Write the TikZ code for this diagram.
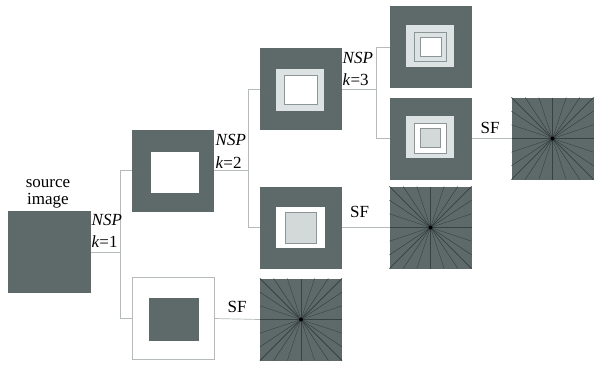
\documentclass[tikz,border=0pt]{standalone}
\usepackage{fontspec}
\setmainfont{Liberation Serif}
\definecolor{dk}{HTML}{5E6A6A}
\definecolor{lt}{HTML}{DDE2E2}
\definecolor{ltin}{HTML}{D3D9D9}
\definecolor{thin}{HTML}{8C9696}
\definecolor{conn}{HTML}{B5BABA}
\definecolor{rayc}{HTML}{384141}
\newcommand\starrays[1]{%
  \foreach \t in {-3,...,3}{%
    \draw[ray] (#1.center) -- ++(41,\t*41/3);
    \draw[ray] (#1.center) -- ++(-41,\t*41/3);
    \draw[ray] (#1.center) -- ++(\t*41/3,41);
    \draw[ray] (#1.center) -- ++(\t*41/3,-41);
  }%
  \fill[black] (#1.center) circle (2);
}
\begin{document}
\begin{tikzpicture}[x=1pt,y=-1pt,
  box/.style={rectangle,inner sep=0,outer sep=0,minimum width=82pt,minimum height=82pt,fill=dk},
  frame/.style={rectangle,inner sep=0,outer sep=0,minimum width=82pt,minimum height=82pt,fill=white,draw=conn,line width=0.8pt},
  rect/.style args={#1x#2}{rectangle,inner sep=0,outer sep=0,minimum width=#1pt,minimum height=#2pt},
  conn/.style={draw=conn,line width=0.7pt},
  ray/.style={draw=rayc,line width=0.45pt},
  lbl/.style={font=\rmfamily\fontsize{17}{20}\selectfont,inner sep=0}]
\useasboundingbox (0,0) rectangle (596,368);
\fill[white] (0,0) rectangle (596,368);

% boxes
\node[box,minimum width=83pt] (src) at (49.5,252) {};
\node[box] (b2) at (173,170.5) {};
\node[frame] (bl) at (173.5,318.5) {};
\node[box] (c3) at (300.5,89) {};
\node[box] (c2) at (300.5,227.5) {};
\node[box] (s1) at (301,319.5) {};
\node[box] (d1) at (430.5,47) {};
\node[box] (d2) at (430.5,138.5) {};
\node[box] (s2) at (430.5,227.5) {};
\node[box] (s3) at (552.5,138.5) {};

% inner parts
\node[rect=48x41,fill=white] (b2in) at (175,172.5) {};
\node[rect=50x43,fill=dk] (blin) at (174,319.5) {};
\node[rect=48x42,fill=lt] (c3a) at (300,90) {};
\node[rect=33x29,fill=white,draw=thin,line width=0.8pt] (c3b) at (300.5,89.5) {};
\node[rect=49x41,fill=white] (c2a) at (300.5,227.5) {};
\node[rect=31x31,fill=ltin,draw=thin,line width=0.8pt] (c2b) at (300.5,227.5) {};
\node[rect=48x42,fill=lt] (d1a) at (430,46) {};
\node[rect=32x29,fill=lt,draw=thin,line width=0.8pt] (d1b) at (430,46.5) {};
\node[rect=21x19,fill=white,draw=thin,line width=0.8pt] (d1c) at (430.5,46.5) {};
\node[rect=48x42,fill=lt] (d2a) at (430,137) {};
\node[rect=32x30,fill=white,draw=thin,line width=0.8pt] (d2b) at (430,138) {};
\node[rect=20x19,fill=ltin,draw=thin,line width=0.8pt] (d2c) at (430,137.5) {};

% stars
\starrays{s1}
\starrays{s2}
\starrays{s3}

% connectors
\coordinate (j1) at (120,252);
\coordinate (j2) at (248,170.5);
\coordinate (j3) at (376,89);
\draw[conn] (src.east) -- (j1);
\draw[conn] (j1) |- (b2.west);
\draw[conn] (j1) |- (bl.west);
\draw[conn] (b2.east) -- (j2);
\draw[conn] (j2) |- (c3.west);
\draw[conn] (j2) |- (c2.west);
\draw[conn] (c3.east) -- (j3);
\draw[conn] (j3) |- (d1.west);
\draw[conn] (j3) |- (d2.west);
\draw[conn] (bl.east) -- (s1.west);
\draw[conn] (c2.east) -- (s2.west);
\draw[conn] (d2.east) -- (s3.west);

% labels
\node[lbl,anchor=base] (t1) at (48,187) {source};
\node[lbl,anchor=base] (t2) at (48,204) {image};
\node[lbl,anchor=base west] (n1) at (91.5,225) {\itshape NSP};
\node[lbl,anchor=base west] (k1) at (91.5,247) {\textit{k}=1};
\node[lbl,anchor=base west] (n2) at (215.5,145) {\itshape NSP};
\node[lbl,anchor=base west] (k2) at (215.5,168) {\textit{k}=2};
\node[lbl,anchor=base west] (n3) at (342.5,63) {\itshape NSP};
\node[lbl,anchor=base west] (k3) at (342.5,85) {\textit{k}=3};
\node[lbl,anchor=base] (sf1) at (237,312) {SF};
\node[lbl,anchor=base] (sf2) at (359.5,217) {SF};
\node[lbl,anchor=base] (sf3) at (490,133) {SF};
\end{tikzpicture}
\end{document}
